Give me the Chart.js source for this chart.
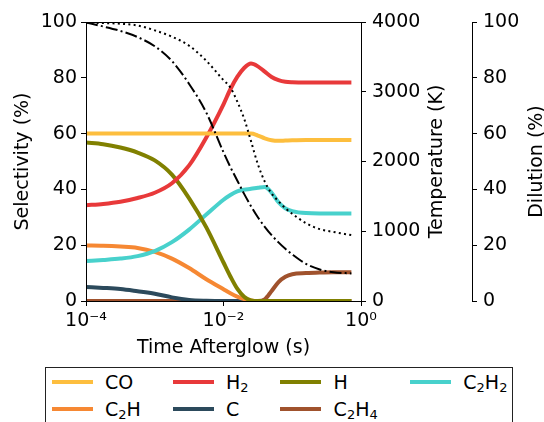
<!DOCTYPE html>
<html>
<head>
<meta charset="utf-8">
<script src="https://cdn.jsdelivr.net/npm/chart.js@4.4.1/dist/chart.umd.min.js"></script>
<style>
    body { margin: 0; background: #fff; }
    #wrap { position: relative; width: 544px; height: 422px; overflow: hidden; font-family: 'DejaVu Sans', sans-serif; }
    #legend { position: absolute; left: 45px; top: 367px; width: 466px; height: 80px; border: 1px solid #222; background: #fff; }
    .swatch { position: absolute; width: 41px; height: 4px; }
    .label { position: absolute; height: 22px; line-height: 22px; font-size: 19px; white-space: nowrap; color: #000; }
    .label sub { font-size: 13px; vertical-align: -3px; line-height: 0; }
</style>
</head>
<body>
<div id="wrap">
    <canvas id="chart" width="544" height="422"></canvas>
    <div id="legend"></div>
</div>
<script>
// Time points as log10(seconds), shared by every series
const logTime = [-4, -3.75, -3.5, -3.25, -3, -2.75, -2.5, -2.25, -2, -1.9, -1.8, -1.7, -1.6, -1.5, -1.4, -1.3, -1.2, -1.1, -1, -0.8, -0.6, -0.4, -0.14];

// Selectivity (%)
const coSel   = [60, 60, 60, 60, 60, 60, 60, 60, 60, 60, 60, 60, 60, 59.3, 58.3, 57.6, 57.4, 57.5, 57.6, 57.7, 57.7, 57.7, 57.7];
const h2Sel   = [34.3, 34.8, 35.6, 36.9, 38.8, 42.2, 48.6, 58.6, 70.5, 75.9, 80.3, 83.5, 85.1, 84.1, 82.2, 80.3, 79.2, 78.6, 78.4, 78.3, 78.3, 78.3, 78.3];
const hSel    = [56.8, 56.2, 55, 53.2, 50.4, 45.3, 36.8, 26.4, 13.8, 8.8, 4.4, 1.5, 0.2, 0, 0, 0, 0, 0, 0, 0, 0, 0, 0];
const c2h2Sel = [14.3, 14.7, 15.2, 16.1, 17.9, 21.1, 25.6, 31, 36.3, 38, 39.3, 39.9, 40.2, 40.6, 40.9, 38.8, 35.4, 33.2, 32.2, 31.5, 31.4, 31.4, 31.4];
const c2hSel  = [19.9, 19.8, 19.5, 19, 17.6, 15.2, 11.8, 7.8, 4.2, 2.8, 1.6, 0.7, 0.2, 0, 0, 0, 0, 0, 0, 0, 0, 0, 0];
const cSel    = [5, 4.7, 4.3, 3.5, 2.6, 1.3, 0.4, 0.1, 0, 0, 0, 0, 0, 0, 0, 0, 0, 0, 0, 0, 0, 0, 0];
const c2h4Sel = [0, 0, 0, 0, 0, 0, 0, 0, 0, 0, 0, 0, 0, 0, 0.6, 3.6, 6.8, 8.7, 9.6, 10, 10.2, 10.3, 10.3];

// Temperature (K), dotted line, and dilution (%), dash-dot line
const temperature = [3990, 3985, 3975, 3950, 3880, 3790, 3660, 3444, 3165, 3060, 2860, 2614, 2292, 1960, 1712, 1540, 1430, 1330, 1250, 1115, 1030, 990, 945];
const dilution    = [99.8, 98.4, 96.8, 94.6, 91.3, 86, 77.8, 67.5, 53.3, 48, 43.2, 38.4, 34, 30, 26.6, 23.6, 21, 18.7, 16.7, 13.3, 11.3, 10.3, 9.9];

// Tick labels
const xTickValues = [1e-4, 1e-2, 1];
const xTickLabels = ['10\u207B\u2074', '10\u207B\u00B2', '10\u2070'];

// Legend, in the order it reads on screen
const speciesNames = ['CO', 'H2', 'H', 'C2H2', 'C2H', 'C', 'C2H4'];
const speciesColors = ['#FDBE3E', '#E8393A', '#808000', '#48D1CC', '#F68833', '#2C4A5C', '#A0522D'];
const speciesValues = [coSel, h2Sel, hSel, c2h2Sel, c2hSel, cSel, c2h4Sel];

const FONT = "19px 'DejaVu Sans'";

function toPoints(values) {
    return values.map((v, i) => ({ x: Math.pow(10, logTime[i]), y: v }));
}

function subscriptHtml(name) {
    return name.replace(/(\d)/g, '<sub>$1</sub>');
}

// 1. Legend box under the plot (partly cut by the window)
function buildLegend() {
    const legend = document.getElementById('legend');
    const colLeft = [5.7, 126.7, 234.3, 364];
    const rowMid = [14.3, 41];
    speciesNames.forEach((name, i) => {
        const col = i % 4;
        const row = Math.floor(i / 4);
        const sw = document.createElement('div');
        sw.className = 'swatch';
        sw.style.left = colLeft[col] + 'px';
        sw.style.top = (rowMid[row] - 2) + 'px';
        sw.style.background = speciesColors[i];
        legend.appendChild(sw);

        const lb = document.createElement('div');
        lb.className = 'label';
        lb.style.left = (colLeft[col] + 53.3) + 'px';
        lb.style.top = (rowMid[row] - 11) + 'px';
        lb.innerHTML = subscriptHtml(name);
        legend.appendChild(lb);
    });
}

// 2. Frame and axis titles (right titles read bottom to top like the left one)
const framePlugin = {
    id: 'frame',
    afterDraw(chart) {
        const { ctx, chartArea: a } = chart;
        ctx.save();
        ctx.strokeStyle = '#000';
        ctx.lineWidth = 1;
        ctx.strokeRect(Math.round(a.left) + 0.5, Math.round(a.top) + 0.5,
            Math.round(a.right - a.left), Math.round(a.bottom - a.top));

        ctx.fillStyle = '#000';
        ctx.font = FONT;
        ctx.textAlign = 'center';
        ctx.textBaseline = 'alphabetic';
        ctx.fillText('Time Afterglow (s)', (a.left + a.right) / 2, 352.5);

        const midY = (a.top + a.bottom) / 2;
        [['Selectivity (%)', 28], ['Temperature (K)', 442], ['Dilution (%)', 541.5]].forEach(([text, x]) => {
            ctx.save();
            ctx.translate(x, midY);
            ctx.rotate(-Math.PI / 2);
            ctx.fillText(text, 0, 0);
            ctx.restore();
        });
        ctx.restore();
    }
};

function axisTicks(extra) {
    return Object.assign({
        color: '#000',
        font: { family: 'DejaVu Sans', size: 19 },
        padding: 4,
        callback: (v) => String(v)
    }, extra);
}

const noGrid = { drawOnChartArea: false, drawTicks: true, tickLength: 5, tickColor: '#000', tickWidth: 1 };

function renderChart() {
    const ctx = document.getElementById('chart').getContext('2d');

    const datasets = [
        {
            label: 'Temperature',
            data: toPoints(temperature),
            yAxisID: 'yT',
            borderColor: '#000',
            borderWidth: 2,
            borderDash: [2, 3.3]
        },
        {
            label: 'Dilution',
            data: toPoints(dilution),
            yAxisID: 'yD',
            borderColor: '#000',
            borderWidth: 2,
            borderDash: [12, 3.2, 2, 3.2]
        }
    ];
    speciesNames.forEach((name, i) => {
        datasets.push({
            label: name,
            data: toPoints(speciesValues[i]),
            yAxisID: 'y',
            borderColor: speciesColors[i],
            borderWidth: 4
        });
    });

    new Chart(ctx, {
        type: 'line',
        data: { datasets },
        plugins: [framePlugin],
        options: {
            responsive: false,
            animation: false,
            devicePixelRatio: 1,
            layout: { padding: { top: 22, bottom: 81, left: 0, right: 0 } },
            elements: {
                point: { radius: 0 },
                line: { cubicInterpolationMode: 'monotone', fill: false }
            },
            plugins: { legend: { display: false }, tooltip: { enabled: false } },
            scales: {
                x: {
                    type: 'logarithmic',
                    min: 1e-4,
                    max: 1,
                    border: { display: false },
                    grid: noGrid,
                    afterBuildTicks: (s) => { s.ticks = xTickValues.map(v => ({ value: v })); },
                    afterFit: (s) => { s.height = 40; },
                    ticks: axisTicks({
                        autoSkip: false,
                        maxRotation: 0,
                        callback: (v) => xTickLabels[xTickValues.indexOf(v)]
                    })
                },
                y: {
                    position: 'left',
                    min: 0,
                    max: 100,
                    border: { display: false },
                    grid: noGrid,
                    afterFit: (s) => { s.width = 86; },
                    ticks: axisTicks({ stepSize: 20 })
                },
                yT: {
                    position: 'right',
                    min: 0,
                    max: 4000,
                    border: { display: false },
                    grid: noGrid,
                    afterFit: (s) => { s.width = 111; },
                    ticks: axisTicks({ stepSize: 1000, padding: 6 })
                },
                yD: {
                    position: 'right',
                    min: 0,
                    max: 100,
                    border: { display: true, color: '#000', width: 1 },
                    grid: noGrid,
                    afterFit: (s) => { s.width = 72; },
                    ticks: axisTicks({ stepSize: 20, padding: 6 })
                }
            }
        }
    });
}

buildLegend();
renderChart();
</script>
</body>
</html>
